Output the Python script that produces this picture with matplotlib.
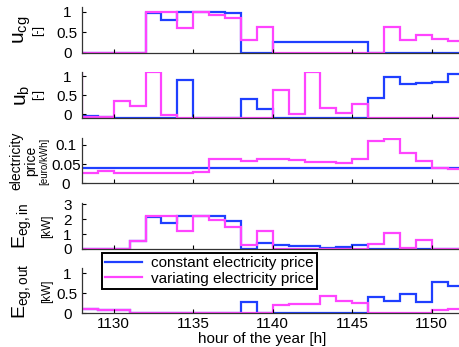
import numpy as np
import matplotlib
matplotlib.use("Agg")
import matplotlib.pyplot as plt

plt.rcParams['font.family'] = ['Liberation Sans', 'DejaVu Sans']
plt.rcParams['mathtext.fontset'] = 'custom'
plt.rcParams['mathtext.rm'] = 'Liberation Sans'
plt.rcParams['mathtext.it'] = 'Liberation Sans'
plt.rcParams['mathtext.default'] = 'regular'

# hourly step edges (first hour lies just left of the visible range)
edges = np.arange(1127, 1153)

ucg_const = [0, 0, 0, 0, 0, 0.97, 0.8, 1.0, 1.0, 1.0, 0.98, 0, 0,
             0.27, 0.27, 0.27, 0.27, 0.27, 0.27, 0, 0, 0, 0, 0, 0]
ucg_var = [0, 0, 0, 0, 0, 1.0, 1.0, 0.6, 1.0, 0.92, 0.86, 0.3, 0.62,
           0, 0, 0, 0, 0, 0, 0, 0.62, 0.3, 0.43, 0.34, 0.29]

ub_const = [-0.045, -0.045, -0.07, -0.09, -0.09, -0.09, -0.09, 0.9, -0.09, -0.09, -0.09, 0.4, 0.15,
            -0.09, -0.09, -0.09, -0.09, -0.09, -0.09, 0.43, 0.99, 0.79, 0.83, 0.86, 1.05]
ub_var = [1.1, -0.07, -0.07, 0.34, 0.21, 1.1, -0.03, -0.09, -0.09, -0.09, -0.09, -0.09, -0.09,
          0.64, 0.0, 1.1, 0.17, 0.03, 0.26, -0.09, -0.09, -0.09, -0.09, -0.09, -0.09]

price_const = [0.041] * 25
price_var = [0.026, 0.026, 0.033, 0.027, 0.028, 0.028, 0.028, 0.028, 0.030, 0.063, 0.063, 0.059, 0.063,
             0.063, 0.061, 0.056, 0.055, 0.052, 0.063, 0.110, 0.115, 0.078, 0.058, 0.041, 0.037]

ein_const = [0, 0, 0, 0, 0.54, 2.13, 1.72, 2.24, 2.24, 2.24, 1.9, 0, 0.43,
             0.27, 0.2, 0.2, 0.09, 0.16, 0.25, 0, 0, 0, 0, 0, 0]
ein_var = [0, 0, 0, 0, 0.54, 2.24, 2.24, 1.22, 2.24, 1.95, 1.45, 0.27, 1.18,
           0, 0, 0, 0, 0, 0, 0.32, 1.04, 0.09, 0.59, 0, 0]

eout_const = [0.1, 0.1, 0.09, 0.09, 0, 0, 0, 0, 0, 0, 0, 0.27, 0,
              0, 0, 0, 0, 0, 0, 0.4, 0.31, 0.47, 0.27, 0.77, 0.67]
eout_var = [0.45, 0.1, 0.08, 0.08, 0, 0, 0, 0, 0, 0, 0, 0, 0,
            0.21, 0.23, 0.23, 0.43, 0.31, 0.25, 0, 0, 0, 0, 0.07, 0.11]

xticks = [1130, 1135, 1140, 1145, 1150]

blue = '#1f3fff'
magenta = '#ff44ff'

W, H = 459, 347
fig = plt.figure(figsize=(W / 100, H / 100), dpi=100)

# (top, bottom) of each panel in pixels
panels = [(7, 52.7), (71.7, 118), (138, 183.3), (202.7, 249), (268.3, 313.3)]
series = [(ucg_const, ucg_var), (ub_const, ub_var), (price_const, price_var),
          (ein_const, ein_var), (eout_const, eout_var)]
ylims = [(0, 1.12), (-0.1, 1.12), (0, 0.118), (0, 3.1), (0, 1.12)]
yticks = [[0, 0.5, 1], [0, 0.5, 1], [0, 0.05, 0.1], [0, 1, 2, 3], [0, 0.5, 1]]
yticklabels = [['0', '0.5', '1'], ['0', '0.5', '1'], ['0', '0.05', '0.1'],
               ['0', '1', '2', '3'], ['0', '0.5', '1']]
ypads = [10.5, 10.5, 11.5, 10.5, 10.5]

left, right = 81.9, 81.9 + 24 * 15.9
for i, (top, bot) in enumerate(panels):
    ax = fig.add_axes([left / W, 1 - bot / H, (right - left) / W, (bot - top) / H])
    c, v = series[i]
    ax.stairs(c, edges, baseline=None, color=blue, linewidth=1.6)
    ax.stairs(v, edges, baseline=None, color=magenta, linewidth=1.6)
    ax.set_xlim(1128, 1152)
    ax.set_ylim(*ylims[i])
    ax.set_xticks(xticks)
    ax.set_yticks(yticks[i])
    ax.set_yticklabels(yticklabels[i], ha='center')
    ax.tick_params(axis='y', direction='in', length=3, pad=ypads[i], labelsize=11)
    ax.tick_params(axis='x', direction='in', length=3, pad=3, labelsize=11)
    if i < 4:
        ax.set_xticklabels([])
    ax.spines['top'].set_visible(False)
    ax.spines['right'].set_visible(False)
    for s in ('left', 'bottom'):
        ax.spines[s].set_linewidth(0.9)
        ax.spines[s].set_color('#333333')

# y labels: main text and unit text
def ylab(x, yc, s, size):
    fig.text(x / W, 1 - yc / H, s, rotation=90, ha='center', va='center', fontsize=size)

ylab(22, 30, 'u$_{cg}$', 15)
ylab(38, 30, '[-]', 9)
ylab(22, 95, 'u$_{b}$', 15)
ylab(38, 95, '[-]', 9)
ylab(16, 161, 'electricity', 10)
ylab(31, 161, 'price', 10)
ylab(44.5, 161, '[euro/kWh]', 7)
ylab(22, 226, 'E$_{eg,in}$', 14)
ylab(47, 226, '[kW]', 8.5)
ylab(22, 291, 'E$_{eg,out}$', 14)
ylab(47, 291, '[kW]', 8.5)

fig.text(262 / W, 1 - 339 / H, 'hour of the year [h]', ha='center', va='center', fontsize=11)

handles = [plt.Line2D([], [], color=blue, lw=1.6), plt.Line2D([], [], color=magenta, lw=1.6)]
leg = fig.legend(handles, ['constant electricity price', 'variating electricity price'],
                 loc='upper left', bbox_to_anchor=(102 / W, 1 - 253 / H), fontsize=11,
                 frameon=True, fancybox=False, framealpha=1, edgecolor='black',
                 borderpad=0.2, labelspacing=0.1, handlelength=2.4, handletextpad=0.6,
                 borderaxespad=0)
leg.get_frame().set_linewidth(1.4)

fig.savefig('out.png', dpi=100)
